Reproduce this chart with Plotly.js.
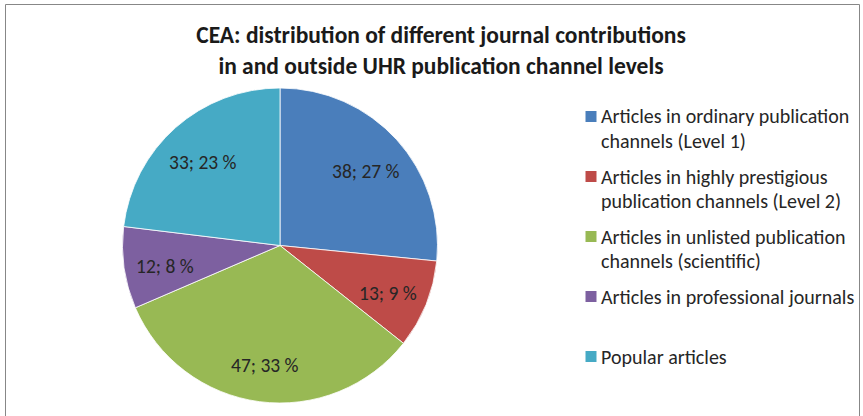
<!DOCTYPE html>
<html>
<head>
<meta charset="utf-8">
<script src="https://cdn.plot.ly/plotly-3.0.1.min.js"></script>
<style>html,body{margin:0;padding:0;background:#fff;}#chart{width:863px;height:416px;}</style>
</head>
<body>
<div id="chart"></div>
<script>
// ---- data ----
const categories = [
  "Articles in ordinary publication channels (Level 1)",
  "Articles in highly prestigious publication channels (Level 2)",
  "Articles in unlisted publication channels (scientific)",
  "Articles in professional journals",
  "Popular articles"
];
const legendLines = [
  ["Articles in ordinary publication", "channels (Level 1)"],
  ["Articles in highly prestigious", "publication channels (Level 2)"],
  ["Articles in unlisted publication", "channels (scientific)"],
  ["Articles in professional journals"],
  ["Popular articles"]
];
const values = [38, 13, 47, 12, 33];
const colors = ["#4A7EBB", "#BE4B48", "#98B954", "#7D60A0", "#46AAC5"];

// ---- layout helpers (pixel -> paper) ----
const W = 863, H = 416;
const px = x => x / W;
const py = y => 1 - y / H;
const FONT = "Carlito, Lato, 'Noto Sans', sans-serif";

const total = values.reduce((a, b) => a + b, 0);
const sliceText = values.map(v => v + "; " + Math.round(v / total * 100) + " %");

const cx = 280, cy = 245.5, r = 157.5;

const trace = {
  type: "pie",
  labels: categories,
  values: values,
  text: sliceText,
  textinfo: "none",
  sort: false,
  direction: "clockwise",
  rotation: 0,
  marker: {colors: colors, line: {color: "#ffffff", width: 0.8}},
  domain: {x: [px(cx - r), px(cx + r)], y: [py(cy + r), py(cy - r)]},
  hoverinfo: "label+value+percent",
  showlegend: false
};

const annotations = [];
const shapes = [];

// data labels placed along each slice's bisector (clockwise from 12 o'clock)
let cum = 0;
values.forEach((v, i) => {
  const mid = (cum + v / 2) / total * 2 * Math.PI;
  cum += v;
  const lr = 0.74 * r;
  annotations.push({
    xref: "paper", yref: "paper",
    x: px(cx + lr * Math.sin(mid)), y: py(cy + 4 - lr * Math.cos(mid)),
    xanchor: "center", yanchor: "middle", showarrow: false,
    text: sliceText[i], font: {family: FONT, size: 19.5, color: "#262626"}
  });
});

// manual legend built from the category list
const legTop = 116.5, itemStep = 60, lineStep = 24.5;
legendLines.forEach((lines, i) => {
  const y0 = legTop + i * itemStep;
  shapes.push({
    type: "rect", xref: "paper", yref: "paper",
    x0: px(585.5), x1: px(596.5), y0: py(y0 + 5.5), y1: py(y0 - 5.5),
    fillcolor: colors[i], line: {width: 0}
  });
  lines.forEach((t, j) => {
    annotations.push({
      xref: "paper", yref: "paper", x: px(599), y: py(y0 + j * lineStep),
      xanchor: "left", yanchor: "middle", showarrow: false,
      text: t, font: {family: FONT, size: 20, color: "#262626"}
    });
  });
});

// chart border
shapes.push({
  type: "rect", xref: "paper", yref: "paper",
  x0: px(5.5), x1: px(859.5), y0: py(430), y1: py(4.5),
  line: {color: "#878787", width: 1}, fillcolor: "rgba(0,0,0,0)", layer: "below"
});

const layout = {
  width: W, height: H,
  margin: {l: 0, r: 0, t: 0, b: 0},
  paper_bgcolor: "#ffffff",
  title: {
    text: "<b>CEA: distribution of different journal contributions<br>in and outside UHR publication channel levels</b>",
    font: {family: FONT, size: 23.5, color: "#1a1a1a"},
    x: px(441), xanchor: "center", y: py(43), yanchor: "middle", yref: "paper"
  },
  annotations: annotations,
  shapes: shapes,
  showlegend: false
};

Plotly.newPlot("chart", [trace], layout, {displayModeBar: false, staticPlot: true});
</script>
</body>
</html>
